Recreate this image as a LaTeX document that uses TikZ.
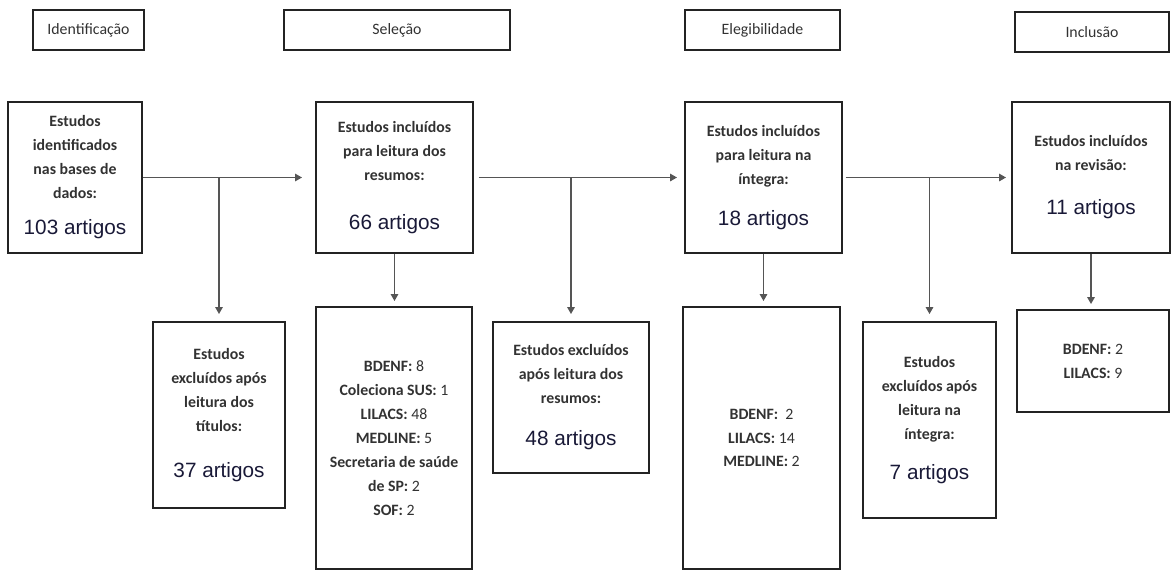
\documentclass[tikz,border=0pt]{standalone}
\usepackage{fontspec}
\setmainfont{Carlito}
\newfontfamily\arialfont{Liberation Sans}
\usetikzlibrary{arrows.meta,positioning}

\definecolor{boxline}{RGB}{35,35,35}
\definecolor{arrline}{RGB}{85,85,85}
\definecolor{txtgray}{RGB}{50,50,50}
\definecolor{cnt}{RGB}{25,25,55}

% contagem de artigos e linhas das bases
\newcommand{\qtd}[1]{{\arialfont\mdseries\fontsize{11.8}{14}\selectfont\color{cnt}#1}}
\newcommand{\db}[2]{#1: {\mdseries #2}}

\begin{document}
\begin{tikzpicture}[
            header/.style={rectangle, draw=boxline, line width=1.1pt, minimum height=0.8cm, inner sep=0pt, font=\fontsize{9}{11}\selectfont, text=txtgray},
            box/.style={rectangle, draw=boxline, line width=1.1pt, inner sep=0pt, align=center, font=\fontsize{9}{13.6}\selectfont\bfseries, text=txtgray},
            arrow/.style={-{Triangle[length=1.4mm, width=1.5mm]}, draw=arrline, fill=boxline, line width=0.85pt}
        ]
            \useasboundingbox (0,0) rectangle (23.42,-11.42);
            % fases
            \node[header, minimum width=2.22cm] (hid) at (1.77,-0.60) {Identificação};
            \node[header, minimum width=4.52cm] (hsel) at (7.94,-0.60) {Seleção};
            \node[header, minimum width=3.10cm] (heleg) at (15.25,-0.60) {Elegibilidade};
            \node[header, minimum width=3.08cm] (hinc) at (21.84,-0.64) {Inclusão};
            % caixas principais
            \node[box, minimum width=2.68cm, minimum height=3.02cm] (ident) at (1.50,-3.55) {Estudos\\identificados\\nas bases de\\dados:\\[7pt]\qtd{103 artigos}};
            \node[box, minimum width=3.14cm, minimum height=3.02cm] (sel) at (7.89,-3.55) {Estudos incluídos\\para leitura dos\\resumos:\\[14.5pt]\qtd{66 artigos}};
            \node[box, minimum width=3.14cm, minimum height=3.02cm] (eleg) at (15.27,-3.55) {Estudos incluídos\\para leitura na\\íntegra:\\[9.4pt]\qtd{18 artigos}};
            \node[box, minimum width=3.16cm, minimum height=3.02cm] (incl) at (21.82,-3.55) {Estudos incluídos\\na revisão:\\[11.6pt]\qtd{11 artigos}};
            % excluidos e bases
            \node[box, minimum width=2.64cm, minimum height=3.72cm] (exc1) at (4.38,-8.30) {Estudos\\excluídos após\\leitura dos\\títulos:\\[12.8pt]\qtd{37 artigos}};
            \node[box, minimum width=3.12cm, minimum height=5.24cm] (db1) at (7.88,-8.76) {\db{BDENF}{8}\\\db{Coleciona SUS}{1}\\\db{LILACS}{48}\\\db{MEDLINE}{5}\\Secretaria de saúde\\\db{de SP}{2}\\\db{SOF}{2}};
            \node[box, minimum width=3.12cm, minimum height=3.02cm] (exc2) at (11.42,-7.95) {Estudos excluídos\\após leitura dos\\resumos:\\[10.5pt]\qtd{48 artigos}};
            \node[box, minimum width=3.14cm, minimum height=5.24cm] (db2) at (15.23,-8.76) {\db{BDENF}{\ 2}\\\db{LILACS}{14}\\\db{MEDLINE}{2}};
            \node[box, minimum width=2.66cm, minimum height=3.92cm] (exc3) at (18.59,-8.40) {Estudos\\excluídos após\\leitura na\\íntegra:\\[9.4pt]\qtd{7 artigos}};
            \node[box, minimum width=3.04cm, minimum height=2.04cm] (db3) at (21.86,-7.22) {\db{BDENF}{2}\\\db{LILACS}{9}};
            % fluxo horizontal
            \draw[arrow, shorten >=0.26cm] (ident.east) -- (sel.west);
            \draw[arrow, shorten <=0.10cm, shorten >=0.14cm] (sel.east) -- (eleg.west);
            \draw[arrow, shorten <=0.06cm, shorten >=0.10cm] (eleg.east) -- (incl.west);
            % ramos para os excluidos
            \draw[arrow, shorten >=0.14cm] (ident.east -| exc1.north) -- (exc1.north);
            \draw[arrow, shorten >=0.14cm] (sel.east -| exc2.north) -- (exc2.north);
            \draw[arrow, shorten >=0.14cm] (eleg.east -| exc3.north) -- (exc3.north);
            % setas para as bases
            \draw[arrow, shorten >=0.10cm] (sel.south) -- (sel.south |- db1.north);
            \draw[arrow, shorten >=0.10cm] (eleg.south) -- (eleg.south |- db2.north);
            \draw[arrow, shorten >=0.10cm] (incl.south) -- (incl.south |- db3.north);
        \end{tikzpicture}
\end{document}
